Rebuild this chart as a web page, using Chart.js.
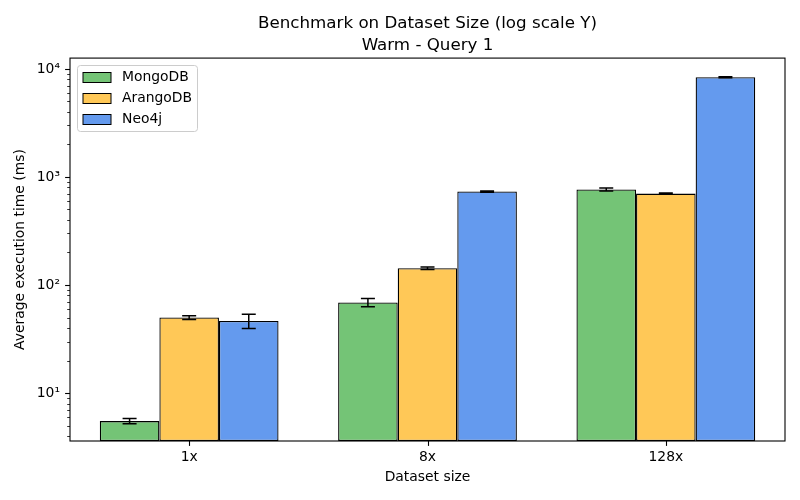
<!DOCTYPE html>
<html>
<head>
<meta charset="utf-8">
<script src="https://cdn.jsdelivr.net/npm/chart.js@4/dist/chart.umd.min.js"></script>
<style>
  html, body { margin: 0; padding: 0; background: #fff; }
  #wrap { width: 800px; height: 500px; }
</style>
</head>
<body>
<div id="wrap"><canvas id="chart" width="800" height="500"></canvas></div>
<script>
"use strict";

// Values (ms, log scale)
const categories = ["1x", "8x", "128x"];
const seriesNames = ["MongoDB", "ArangoDB", "Neo4j"];
const mongoMean = [5.5, 69, 765];
const mongoErr = [0.3, 6, 25];
const arangoMean = [50, 143, 702];
const arangoErr = [2, 4, 8];
const neoMean = [46.5, 733, 8380];
const neoErr = [7, 10, 100];
const yMin = 3.6;
const yMax = 12600;

const COLORS = ["#74c476", "#ffc857", "#649aee"];
const FONT = "DejaVu Sans";
const errs = [mongoErr, arangoErr, neoErr];

// ---------------------------------------------------------------------------
// Extra drawing: error bars, frame, matplotlib-like ticks, legend
// ---------------------------------------------------------------------------
const decor = {
  id: "decor",
  afterDatasetsDraw(chart) {
    const ctx = chart.ctx, ys = chart.scales.y, a = chart.chartArea;
    ctx.save();
    ctx.beginPath();
    ctx.rect(a.left, a.top, a.right - a.left, a.bottom - a.top);
    ctx.clip();
    ctx.strokeStyle = "#000";
    ctx.lineWidth = 1.5;
    chart.data.datasets.forEach((ds, d) => {
      const meta = chart.getDatasetMeta(d);
      meta.data.forEach((bar, i) => {
        const v = ds.data[i], e = errs[d][i];
        const yHi = ys.getPixelForValue(v + e);
        const yLo = ys.getPixelForValue(v - e);
        ctx.beginPath();
        ctx.moveTo(bar.x, yHi); ctx.lineTo(bar.x, yLo);
        ctx.moveTo(bar.x - 7, yHi); ctx.lineTo(bar.x + 7, yHi);
        ctx.moveTo(bar.x - 7, yLo); ctx.lineTo(bar.x + 7, yLo);
        ctx.stroke();
      });
    });
    ctx.restore();
  },
  afterDraw(chart) {
    const ctx = chart.ctx, a = chart.chartArea;
    const ys = chart.scales.y, xs = chart.scales.x;
    ctx.save();
    ctx.strokeStyle = "#000";

    // frame
    ctx.lineWidth = 1.1;
    ctx.strokeRect(a.left, a.top, a.right - a.left, a.bottom - a.top);

    // y ticks (major at decades, minor at 2..9)
    for (let e = 0; e <= 4; e++) {
      for (let k = 1; k <= 9; k++) {
        const v = k * Math.pow(10, e);
        if (v < yMin || v > yMax) continue;
        const y = Math.round(ys.getPixelForValue(v)) + 0.5;
        const len = k === 1 ? 4.9 : 2.8;
        ctx.lineWidth = k === 1 ? 1.1 : 0.8;
        ctx.beginPath();
        ctx.moveTo(a.left - len, y); ctx.lineTo(a.left, y);
        ctx.stroke();
      }
    }
    // x ticks
    ctx.lineWidth = 1.1;
    categories.forEach((c, i) => {
      const x = Math.round(xs.getPixelForValue(i)) + 0.5;
      ctx.beginPath();
      ctx.moveTo(x, a.bottom); ctx.lineTo(x, a.bottom + 4.9);
      ctx.stroke();
    });

    // legend
    const lx = 77.5, ly = 65.5, lw = 120, lh = 66;
    ctx.beginPath();
    ctx.roundRect(lx, ly, lw, lh, 3);
    ctx.fillStyle = "rgba(255,255,255,0.8)";
    ctx.fill();
    ctx.strokeStyle = "#cccccc";
    ctx.lineWidth = 1;
    ctx.stroke();
    ctx.font = `13.9px "${FONT}"`;
    ctx.textBaseline = "middle";
    ctx.textAlign = "left";
    chart.data.datasets.forEach((ds, d) => {
      const ry = 77.5 + d * 21;
      ctx.fillStyle = ds.backgroundColor;
      ctx.fillRect(83, ry - 5, 28, 10);
      ctx.strokeStyle = "#000";
      ctx.strokeRect(83, ry - 5, 28, 10);
      ctx.fillStyle = "#000";
      ctx.fillText(ds.label, 122, ry);
    });
    ctx.restore();
  },
};

const sup = { 0: "⁰", 1: "¹", 2: "²", 3: "³", 4: "⁴" };

new Chart(document.getElementById("chart"), {
  type: "bar",
  data: {
    labels: categories,
    datasets: [mongoMean, arangoMean, neoMean].map((vals, d) => ({
      label: seriesNames[d],
      data: vals,
      backgroundColor: COLORS[d],
      borderColor: "#000",
      borderWidth: 1.3,
      borderSkipped: false,
      categoryPercentage: 0.75,
      barPercentage: 1.0,
    })),
  },
  options: {
    responsive: false,
    animation: false,
    devicePixelRatio: 1,
    layout: { padding: { top: 0, right: 15, left: 0, bottom: 0 } },
    plugins: {
      legend: { display: false },
      tooltip: { enabled: false },
      title: {
        display: true,
        fullSize: false,
        text: ["Benchmark on Dataset Size (log scale Y)", "Warm - Query 1"],
        color: "#000",
        font: { family: FONT, size: 16.7, weight: "normal", lineHeight: 1.32 },
        padding: { top: 12.5, bottom: 1.5 },
      },
    },
    scales: {
      x: {
        grid: { display: false, drawTicks: false },
        border: { display: false },
        ticks: { color: "#000", padding: 8, font: { family: FONT, size: 13.9 } },
        title: {
          display: true, text: "Dataset size", color: "#000",
          font: { family: FONT, size: 13.9 }, padding: { top: 0, bottom: 14 },
        },
        afterFit(s) { s.height = 59; },
      },
      y: {
        type: "logarithmic",
        min: yMin,
        max: yMax,
        grid: { display: false, drawTicks: false },
        border: { display: false },
        ticks: {
          color: "#000", padding: 10, autoSkip: false,
          font: { family: FONT, size: 13.9 },
          callback(v) {
            const e = Math.log10(v);
            return Math.abs(e - Math.round(e)) < 1e-9 ? "10" + sup[Math.round(e)] : "";
          },
        },
        title: {
          display: true, text: "Average execution time (ms)", color: "#000",
          font: { family: FONT, size: 13.9 }, padding: { top: 12, bottom: 0 },
        },
        afterFit(s) { s.width = 70; },
      },
    },
  },
  plugins: [decor],
});
</script>
</body>
</html>
